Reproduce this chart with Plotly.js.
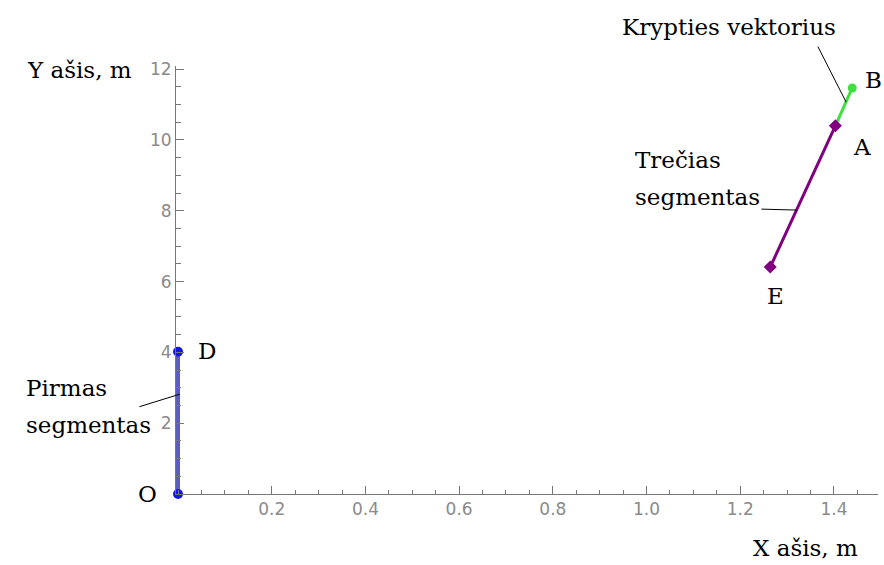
<!DOCTYPE html>
<html>
<head>
<meta charset="utf-8">
<script src="https://cdn.plot.ly/plotly-3.0.1.min.js"></script>
<style>html,body{margin:0;padding:0;background:#fff;}#chart{width:884px;height:565px;}</style>
</head>
<body>
<div id="chart"></div>
<script>
// Segment data (metres)
const pirmasX = [0, 0];
const pirmasY = [0, 4.02];
const treciasX = [1.264, 1.403];
const treciasY = [6.41, 10.40];
const vektoriusX = [1.403, 1.439];
const vektoriusY = [10.40, 11.47];

// Tick values / labels
const xTickVals = [0.2, 0.4, 0.6, 0.8, 1.0, 1.2, 1.4];
const xTickText = ['0.2', '0.4', '0.6', '0.8', '1.0', '1.2', '1.4'];
const yTickVals = [2, 4, 6, 8, 10, 12];
const yTickText = ['2', '4', '6', '8', '10', '12'];

const serif = {family: 'DejaVu Serif, Liberation Serif, serif', size: 23, color: '#000'};
const tickFont = {family: 'DejaVu Sans, Liberation Sans, sans-serif', size: 17, color: '#8a8a8a'};

const traces = [
  {x: pirmasX, y: pirmasY, mode: 'lines+markers', cliponaxis: false,
   line: {color: '#5c5cc0', width: 4}, marker: {color: '#1414f0', size: 10, symbol: 'circle'}},
  {x: vektoriusX, y: vektoriusY, mode: 'lines+markers', cliponaxis: false,
   line: {color: '#3ee03e', width: 3}, marker: {color: '#3ee03e', size: 9, symbol: 'circle'}},
  {x: treciasX, y: treciasY, mode: 'lines+markers', cliponaxis: false,
   line: {color: '#800080', width: 3}, marker: {color: '#800080', size: 10, symbol: 'diamond'}}
];

function label(text, x, y, xanchor) {
  return {text: text, x: x, y: y, xref: 'paper', yref: 'paper', showarrow: false,
          xanchor: xanchor || 'center', yanchor: 'middle', font: serif};
}
function leader(x, y, ax, ay) {
  return {text: '', x: x, y: y, xref: 'x', yref: 'y', ax: ax, ay: ay,
          showarrow: true, arrowhead: 0, arrowwidth: 1, arrowcolor: '#000', standoff: 0, startstandoff: 0};
}

const layout = {
  width: 884, height: 565,
  margin: {l: 176, r: 6, t: 66, b: 71},
  paper_bgcolor: '#fff', plot_bgcolor: '#fff',
  showlegend: false,
  xaxis: {
    range: [-0.0043, 1.494], showgrid: false, zeroline: false,
    showline: true, linecolor: '#777', linewidth: 1,
    tickmode: 'array', tickvals: xTickVals, ticktext: xTickText,
    ticks: 'inside', ticklen: 8, tickcolor: '#777', tickwidth: 1,
    tickfont: tickFont,
    minor: {tickmode: 'linear', tick0: 0, dtick: 0.05, ticks: 'inside', ticklen: 4, tickcolor: '#777', showgrid: false},
    fixedrange: true
  },
  yaxis: {
    range: [0, 12.09], showgrid: false, zeroline: false,
    showline: true, linecolor: '#777', linewidth: 1,
    tickmode: 'array', tickvals: yTickVals, ticktext: yTickText,
    ticks: 'inside', ticklen: 8, tickcolor: '#777', tickwidth: 1,
    tickfont: tickFont,
    minor: {tickmode: 'linear', tick0: 0, dtick: 0.5, ticks: 'inside', ticklen: 5, tickcolor: '#777', showgrid: false},
    fixedrange: true
  },
  annotations: [
    label('Y ašis, m', -0.2151, 0.9907, 'left'),
    label('X ašis, m', 0.9744, -0.1262, 'right'),
    label('O', -0.0399, 0.0),
    label('D', 0.0442, 0.3341),
    label('A', 0.9772, 0.8107),
    label('B', 0.9929, 0.9673),
    label('E', 0.8533, 0.4626),
    label('Pirmas', -0.2165, 0.2477, 'left'),
    label('segmentas', -0.2165, 0.1612, 'left'),
    label('Trečias', 0.651, 0.7804, 'left'),
    label('segmentas', 0.651, 0.6939, 'left'),
    label('Krypties vektorius', 0.6325, 1.0911, 'left'),
    leader(1.426, 11.07, -29, -57),
    leader(1.321, 8.02, -37, -1),
    leader(0.004, 2.82, -42, 13)
  ]
};

Plotly.newPlot('chart', traces, layout, {displayModeBar: false, staticPlot: true});
</script>
</body>
</html>
